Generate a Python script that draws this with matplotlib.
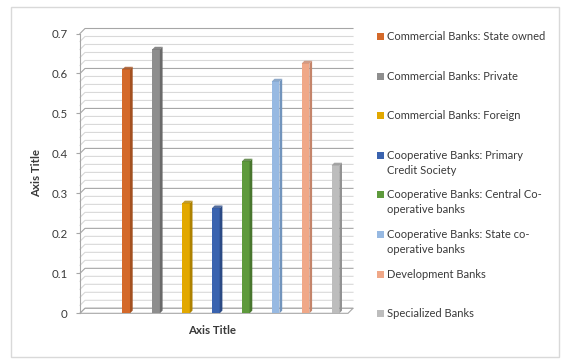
import numpy as np
import matplotlib
matplotlib.use("Agg")
import matplotlib.pyplot as plt
from matplotlib.patches import Rectangle, Polygon

# bank groups and their values
series = [
    "Commercial Banks: State owned",
    "Commercial Banks: Private",
    "Commercial Banks: Foreign",
    "Cooperative Banks: Primary\nCredit Society",
    "Cooperative Banks: Central Co-\noperative banks",
    "Cooperative Banks: State co-\noperative banks",
    "Development Banks",
    "Specialized Banks",
]
values = [0.61, 0.66, 0.275, 0.263, 0.38, 0.58, 0.625, 0.37]
y_ticks = [0.0, 0.1, 0.2, 0.3, 0.4, 0.5, 0.6, 0.7]
y_tick_labels = ["0", "0.1", "0.2", "0.3", "0.4", "0.5", "0.6", "0.7"]

front_colors = ["#D4692A", "#8E8E8E", "#E2A800", "#3A63AF",
                "#5E9A3C", "#97B9E2", "#F0A888", "#BDBDBD"]
side_colors = ["#A35020", "#6A6A6A", "#AE8200", "#2B4A85",
               "#48762E", "#7294BC", "#C4846A", "#929292"]

W, H = 561, 359
plt.rcParams["font.family"] = ["Lato", "DejaVu Sans"]
TXT = "#3a3a3a"

fig = plt.figure(figsize=(W / 100, H / 100), dpi=100)


def fx(px):
    return px / W


def fy(py):
    return 1 - py / H


# front plane of the 3d box: left/right edges and 0 / 0.7 levels (pixels)
left, right, y0, y1 = 80, 348, 313.3, 33.5
ax = fig.add_axes([fx(left), fy(y0), fx(right - left), (y0 - y1) / H])
x_lo, x_hi = -1.543, 7.42
ax.set_xlim(x_lo, x_hi)
ax.set_ylim(0, 0.7)
ax.patch.set_visible(False)
for s in ["top", "right", "bottom"]:
    ax.spines[s].set_visible(False)
ax.spines["left"].set_color("#a6a6a6")
ax.spines["left"].set_linewidth(0.8)
ax.set_xticks([])
ax.set_yticks(y_ticks)
ax.set_yticklabels(y_tick_labels)
ax.tick_params(axis="y", length=3, color="#a6a6a6", pad=6, labelsize=8.3,
               labelcolor=TXT)

# pixel -> data unit conversion for the depth offsets
ux = (x_hi - x_lo) / (right - left)
uy = 0.7 / (y0 - y1)
ddx, ddy = 5 * ux, 5 * uy

# back wall + side wall gridlines
for v in np.round(np.arange(0, 0.701, 0.02), 2):
    major = abs(v * 10 - round(v * 10)) < 1e-6
    c = "#a6a6a6" if major else "#d9d9d9"
    ax.plot([x_lo, x_lo + ddx, x_hi + ddx], [v, v + ddy, v + ddy],
            color=c, lw=0.8, clip_on=False, zorder=1)

# floor
ax.add_patch(Polygon([(x_lo, 0), (x_hi, 0), (x_hi + ddx, ddy), (x_lo + ddx, ddy)],
                     closed=True, facecolor="white", edgecolor="#a6a6a6",
                     lw=0.8, clip_on=False, zorder=2))

# columns: front face, side face, top face
xs = np.arange(len(values))
bw = 7.7 * ux
sdx, sdy = 2.7 * ux, 2.7 * uy
ax.bar(xs, values, width=bw, color=front_colors, zorder=4, clip_on=False)
for x, v, fc, sc in zip(xs, values, front_colors, side_colors):
    r = x + bw / 2
    ax.add_patch(Polygon([(r, 0), (r + sdx, sdy), (r + sdx, v + sdy), (r, v)],
                         closed=True, facecolor=sc, lw=0, zorder=4, clip_on=False))
    ax.add_patch(Polygon([(x - bw / 2, v), (r, v), (r + sdx, v + sdy),
                          (x - bw / 2 + sdx, v + sdy)],
                         closed=True, facecolor=sc, lw=0, alpha=0.8,
                         zorder=4, clip_on=False))

# axis titles
ax.text((212 - left) / (right - left), -(331 - y0) / (y0 - y1), "Axis Title",
        transform=ax.transAxes, ha="center", va="center", fontsize=8.3,
        fontweight="bold", color=TXT)
ax.text((36.7 - left) / (right - left), (y0 - 173) / (y0 - y1), "Axis Title",
        transform=ax.transAxes, ha="center", va="center", rotation=90,
        fontsize=8.3, fontweight="bold", color=TXT)

# legend
for i, (name, fc) in enumerate(zip(series, front_colors)):
    yc = 36.5 + 39.6 * i
    fig.add_artist(Rectangle((fx(377), fy(yc + 3.5)), fx(7), 7 / H,
                             transform=fig.transFigure, facecolor=fc, lw=0))
    fig.text(fx(387), fy(yc - 5.5), name, ha="left", va="top", fontsize=8,
             color=TXT, linespacing=1.45)

# chart border
fig.add_artist(Rectangle((fx(11), fy(357)), fx(548), 350 / H,
                         transform=fig.transFigure, fill=False,
                         edgecolor="#d9d9d9", lw=1))

fig.savefig("out.png", dpi=100)
